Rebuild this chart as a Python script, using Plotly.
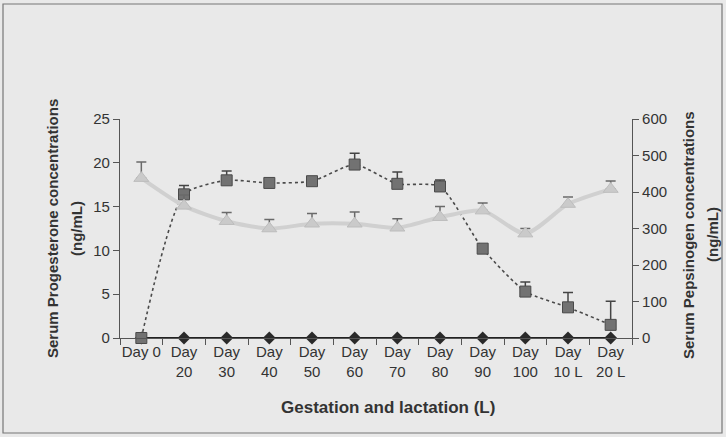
import plotly.graph_objects as go

categories = ["Day 0", "Day<br>20", "Day<br>30", "Day<br>40", "Day<br>50", "Day<br>60",
              "Day<br>70", "Day<br>80", "Day<br>90", "Day<br>100", "Day<br>10 L", "Day<br>20 L"]
progesterone = [0, 16.4, 18.0, 17.7, 17.9, 19.8, 17.6, 17.3, 10.2, 5.3, 3.5, 1.5]
progesterone_err = [0.3, 1.0, 1.05, 0.4, 0.4, 1.3, 1.35, 0.75, 0.3, 1.1, 1.7, 2.7]
pepsinogen = [438, 362, 320, 300, 313, 313, 302, 331, 349, 286, 367, 408]
pepsinogen_err = [44, 30, 24, 25, 28, 32, 25, 29, 21, 14, 19, 22]
control = [0] * 12

left_ticks = [0, 5, 10, 15, 20, 25]
right_ticks = [0, 100, 200, 300, 400, 500, 600]

TXT = "#333333"
AX = "#555555"
FONT = "Liberation Sans, Arial, sans-serif"

fig = go.Figure()

fig.add_trace(go.Scatter(
    x=categories, y=pepsinogen, yaxis="y2", mode="lines+markers",
    line=dict(color="#d0d0d0", width=4, shape="spline", smoothing=0.7),
    marker=dict(symbol="triangle-up", size=13, color="#cacaca",
                line=dict(color="#bdbdbd", width=1)),
    error_y=dict(type="data", symmetric=False, array=pepsinogen_err,
                 arrayminus=[0] * 12, color="#6a6a6a", thickness=1.5, width=5),
    cliponaxis=False, showlegend=False))

fig.add_trace(go.Scatter(
    x=categories, y=control, mode="lines+markers",
    line=dict(color="#222222", width=2),
    marker=dict(symbol="diamond", size=10, color="#2a2a2a"),
    cliponaxis=False, showlegend=False))

fig.add_trace(go.Scatter(
    x=categories, y=progesterone, mode="lines+markers",
    line=dict(color="#4a4a4a", width=1.6, dash="dot", shape="spline", smoothing=0.6),
    marker=dict(symbol="square", size=11, color="#727272",
                line=dict(color="#4a4a4a", width=1)),
    error_y=dict(type="data", symmetric=False, array=progesterone_err,
                 arrayminus=[0] * 12, color="#444444", thickness=1.5, width=5),
    cliponaxis=False, showlegend=False))

fig.update_layout(
    width=726, height=437,
    margin=dict(l=120, r=94, t=119, b=99),
    paper_bgcolor="#e9e9e9", plot_bgcolor="#e9e9e9",
    font=dict(family=FONT, size=15, color=TXT),
    xaxis=dict(type="category", range=[-0.5, 11.5], showgrid=False, zeroline=False,
               showline=True, linecolor=AX, linewidth=1.2, tickangle=0,
               ticks="outside", ticklen=6, tickcolor=AX, tickson="boundaries",
               tickfont=dict(size=15, color=TXT)),
    yaxis=dict(range=[0, 25], tickvals=left_ticks, showgrid=False, zeroline=False,
               showline=True, linecolor=AX, linewidth=1.2,
               ticks="outside", ticklen=6, tickcolor=AX,
               tickfont=dict(size=15, color=TXT)),
    yaxis2=dict(range=[0, 600], tickvals=right_ticks, overlaying="y", side="right",
                anchor="x", showgrid=False, zeroline=False,
                showline=True, linecolor=AX, linewidth=1.2,
                ticks="outside", ticklen=6, tickcolor=AX,
                tickfont=dict(size=15, color=TXT)),
)

def px_x(p):
    return (p - 120) / 512.0

def px_y(p):
    return (338 - p) / 219.0

title_font = dict(family=FONT, size=15, color=TXT)
bold_font = dict(family=FONT, size=17, color=TXT)
annots = [
    dict(text="<b>Serum Progesterone concentrations</b>", x=px_x(52), y=px_y(229)),
    dict(text="<b>(ng/mL)</b>", x=px_x(76), y=px_y(229)),
    dict(text="<b>Serum Pepsinogen concentrations</b>", x=px_x(688), y=px_y(235)),
    dict(text="<b>(ng/mL)</b>", x=px_x(712), y=px_y(235)),
]
for a in annots:
    fig.add_annotation(xref="paper", yref="paper", x=a["x"], y=a["y"], text=a["text"],
                       textangle=-90, showarrow=False, font=title_font,
                       xanchor="center", yanchor="middle")

fig.add_annotation(xref="paper", yref="paper", x=px_x(388), y=px_y(407),
                   text="<b>Gestation and lactation (L)</b>", showarrow=False,
                   font=bold_font, xanchor="center", yanchor="middle")

fig.add_shape(type="rect", xref="paper", yref="paper",
              x0=px_x(3), x1=px_x(722), y0=px_y(433), y1=px_y(4),
              line=dict(color="#777777", width=1.2), fillcolor="rgba(0,0,0,0)", layer="below")

fig.write_html("out.html", config={"displayModeBar": False},
               post_script="document.body.style.margin='0';document.body.style.overflow='hidden';")
